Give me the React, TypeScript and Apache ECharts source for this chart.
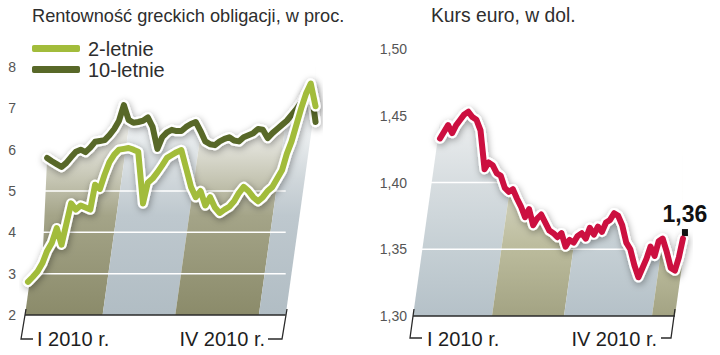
import React, { useEffect, useRef } from "react";
import * as echarts from "echarts";

// ---------- data ----------
const leftTitle = "Rentowność greckich obligacji, w proc.";
const rightTitle = "Kurs euro, w dol.";
const legendNames = ["2-letnie", "10-letnie"];
const xTickLabels = ["I 2010 r.", "IV 2010 r."];
const leftGridValues = [3, 4, 5];
const rightGridValues = [1.35, 1.4, 1.45];

const twoYearYield = [
  2.8, 2.92, 3.05, 3.25, 3.55, 3.75, 4.1, 3.7, 4.2, 4.7,
  4.55, 4.65, 4.6, 4.55, 5.15, 5.05, 5.4, 5.7, 5.88, 6.0,
  6.02, 6.04, 6.0, 5.95, 4.7, 5.2, 5.3, 5.45, 5.62, 5.8,
  5.87, 5.94, 5.99, 5.55, 5.1, 4.85, 5.0, 4.65, 4.85, 4.6,
  4.47, 4.55, 4.62, 4.75, 4.95, 5.1, 5.0, 4.85, 4.75, 4.85,
  5.0, 5.1, 5.3, 5.5, 5.9, 6.2, 6.6, 7.0, 7.35, 7.6,
  7.05,
];
const tenYearYield: (number | null)[] = [
  null, null, null, null, 5.8, 5.72, 5.65, 5.58, 5.68, 5.82,
  5.95, 6.0, 5.94, 6.05, 6.19, 6.21, 6.23, 6.35, 6.5, 6.7,
  7.08, 6.72, 6.65, 6.67, 6.7, 6.78, 6.55, 6.02, 6.3, 6.42,
  6.48, 6.45, 6.45, 6.55, 6.62, 6.67, 6.45, 6.2, 6.13, 6.11,
  6.2, 6.26, 6.3, 6.22, 6.2, 6.3, 6.35, 6.4, 6.5, 6.48,
  6.28, 6.4, 6.5, 6.6, 6.7, 6.84, 6.98, 7.15, 7.35, 7.52,
  6.67,
];
const eurUsd = [
  1.433, 1.438, 1.443, 1.437, 1.443, 1.447, 1.451, 1.453, 1.449, 1.447,
  1.439, 1.41, 1.415, 1.413, 1.407, 1.405, 1.396, 1.393, 1.395, 1.388,
  1.382, 1.374, 1.38, 1.368, 1.373, 1.376, 1.37, 1.364, 1.362, 1.359,
  1.362, 1.352, 1.357, 1.355, 1.36, 1.362, 1.358, 1.366, 1.361, 1.367,
  1.363, 1.37, 1.372, 1.377, 1.375, 1.368, 1.355, 1.35, 1.338, 1.329,
  1.336, 1.343, 1.352, 1.345, 1.356, 1.358, 1.348, 1.336, 1.334, 1.344,
  1.358,
];

// month stripes, in trading-day index units: [start, end, kind(0 olive / 1 blue)]
const leftBands = [
  [-0.62, 15.57, 0],
  [15.57, 30.73, 1],
  [30.73, 48.17, 0],
  [48.17, 53.77, 1],
];
const rightBands = [
  [-6.67, 12.84, 1],
  [12.84, 30.62, 0],
  [30.62, 52.35, 1],
  [52.35, 58.02, 0],
];
const LEFT_MIN = -0.62;
const LEFT_AXIS_END = 53.77;
const LEFT_MAX = 60.3;
const RIGHT_MIN = -6.67;
const RIGHT_AXIS_END = 58.02;
const RIGHT_MAX = 61;

// ---------- styles ----------
const SANS = "'Liberation Sans', Arial, sans-serif";
const GREEN_LIGHT = "#a2bc3b";
const GREEN_DARK = "#586828";
const RED = "#cc1040";
const SLANT = 0.14;

const leftStops = [
  [
    { offset: 0, color: "#fbfbfa" },
    { offset: 0.3, color: "#e4e4dd" },
    { offset: 0.45, color: "#c6c6b4" },
    { offset: 0.6, color: "#a4a488" },
    { offset: 1, color: "#8b8b6a" },
  ],
  [
    { offset: 0, color: "#fbfcfc" },
    { offset: 0.3, color: "#e7ebed" },
    { offset: 0.45, color: "#d0d7db" },
    { offset: 0.6, color: "#bec8ce" },
    { offset: 1, color: "#b1bdc4" },
  ],
];
const rightStops = [
  [
    { offset: 0, color: "#ffffff" },
    { offset: 0.25, color: "#eeeee8" },
    { offset: 0.5, color: "#d6d6c2" },
    { offset: 0.75, color: "#bbbb9c" },
    { offset: 1, color: "#a3a383" },
  ],
  [
    { offset: 0, color: "#ffffff" },
    { offset: 0.25, color: "#eceeef" },
    { offset: 0.5, color: "#d7dde0" },
    { offset: 0.75, color: "#c5cfd4" },
    { offset: 1, color: "#b5c1c8" },
  ],
];

function clipRight(pts: number[][], maxX: number): number[][] {
  const out: number[][] = [];
  for (let i = 0; i < pts.length; i++) {
    const a = pts[i];
    const b = pts[(i + 1) % pts.length];
    const ain = a[0] <= maxX;
    const bin = b[0] <= maxX;
    if (ain) out.push(a);
    if (ain !== bin) {
      const t = (maxX - a[0]) / (b[0] - a[0]);
      out.push([maxX, a[1] + t * (b[1] - a[1])]);
    }
  }
  return out;
}

function bandSeries(idx: number, bands: number[][], stops: any[], yMin: number, yMax: number, lastIdx: number) {
  return {
    type: "custom",
    xAxisIndex: idx,
    yAxisIndex: idx,
    z: 1,
    silent: true,
    clip: false,
    encode: { x: [0, 1], y: 2 },
    data: bands,
    renderItem: (params: any, api: any) => {
      const x0 = api.value(0);
      const x1 = api.value(1);
      const kind = api.value(2);
      const b0 = api.coord([x0, yMin]);
      const b1 = api.coord([x1, yMin]);
      const t = api.coord([x0, yMax]);
      const sh = SLANT * (b0[1] - t[1]);
      const endX = api.coord([lastIdx, yMin])[0];
      const pts = clipRight(
        [
          [b0[0], b0[1]],
          [b1[0], b1[1]],
          [b1[0] + sh, t[1]],
          [b0[0] + sh, t[1]],
        ],
        endX
      );
      return {
        type: "polygon",
        shape: { points: pts },
        style: {
          fill: { type: "linear", x: 0, y: 0, x2: 0, y2: 1, colorStops: stops[kind] },
        },
      };
    },
  };
}

function gridLineSeries(idx: number, values: number[], xStart: number, xEnd: number) {
  return {
    type: "custom",
    xAxisIndex: idx,
    yAxisIndex: idx,
    z: 2,
    silent: true,
    clip: false,
    encode: { x: 0, y: 1 },
    data: values.map((v) => [xEnd, v]),
    renderItem: (params: any, api: any) => {
      const v = api.value(1);
      const p0 = api.coord([xStart, v]);
      const p1 = api.coord([xEnd, v]);
      return {
        type: "line",
        shape: { x1: p0[0], y1: p0[1], x2: p1[0], y2: p1[1] },
        style: { stroke: "#ffffff", lineWidth: 1.5 },
      };
    },
  };
}

function baseLineSeries(idx: number, yMin: number, xStart: number, xEnd: number) {
  return {
    type: "custom",
    xAxisIndex: idx,
    yAxisIndex: idx,
    z: 9,
    silent: true,
    clip: false,
    encode: { x: 0, y: 1 },
    data: [[xEnd, yMin]],
    renderItem: (params: any, api: any) => {
      const p0 = api.coord([xStart, yMin]);
      const p1 = api.coord([xEnd, yMin]);
      return {
        type: "line",
        shape: { x1: p0[0], y1: p0[1], x2: p1[0], y2: p1[1] },
        style: { stroke: "#2a2a2a", lineWidth: 1.5 },
      };
    },
  };
}

function haloLine(idx: number, data: number[][], z: number) {
  return {
    type: "line",
    xAxisIndex: idx,
    yAxisIndex: idx,
    data,
    showSymbol: false,
    symbol: "none",
    silent: true,
    clip: false,
    z,
    lineStyle: {
      color: "#ffffff",
      width: 10.5,
      join: "round",
      cap: "round",
      shadowBlur: 7,
      shadowColor: "rgba(0,0,0,0.35)",
      shadowOffsetX: 1,
      shadowOffsetY: 2,
    },
  };
}

function colorLine(idx: number, name: string, data: number[][], color: string, z: number, extra: any = {}) {
  return {
    type: "line",
    name,
    xAxisIndex: idx,
    yAxisIndex: idx,
    data,
    showSymbol: false,
    symbol: "none",
    clip: false,
    z,
    color,
    itemStyle: { color },
    lineStyle: { color, width: 6, join: "round", cap: "round" },
    ...extra,
  };
}

function maskSeries(idx: number, data: number[][]) {
  return {
    type: "line",
    xAxisIndex: idx,
    yAxisIndex: idx,
    data,
    showSymbol: false,
    symbol: "none",
    silent: true,
    clip: false,
    z: 3,
    lineStyle: { width: 0, opacity: 0 },
    areaStyle: { color: "#ffffff", opacity: 1, origin: "end" },
  };
}

export default function App() {
  const ref = useRef<HTMLDivElement>(null);

  useEffect(() => {
    if (!ref.current) return;
    const chart = echarts.init(ref.current, undefined, { renderer: "svg" });

    const twoData = twoYearYield.map((v, i) => [i, v]);
    const tenData = tenYearYield
      .map((v, i) => [i, v])
      .filter((p) => p[1] !== null) as number[][];
    const envelope = twoYearYield.map((v, i) => {
      const t = tenYearYield[i];
      return [i, t === null ? v : Math.max(v, t)];
    });
    const eurData = eurUsd.map((v, i) => [i, v]);
    const lastL = twoYearYield.length - 1;
    const lastR = eurUsd.length - 1;
    const lastEur = eurUsd[lastR];

    const bracket = (pts: number[][]) => ({
      type: "polyline",
      silent: true,
      z: 20,
      shape: { points: pts },
      style: { stroke: "#2a2a2a", lineWidth: 1.3, fill: null },
    });
    const xLabel = (text: string, x: number, align: string) => ({
      type: "text",
      silent: true,
      z: 20,
      x,
      y: 339,
      style: {
        text,
        fill: "#1e1e1e",
        font: `20px ${SANS}`,
        align,
        verticalAlign: "middle",
      },
    });

    const yLabel = { color: "#555555", fontSize: 14, fontFamily: SANS };
    const hiddenX = {
      axisLine: { show: false },
      axisTick: { show: false },
      axisLabel: { show: false },
      splitLine: { show: false },
    };

    chart.setOption({
      animation: false,
      backgroundColor: "#ffffff",
      title: [
        {
          text: leftTitle,
          left: 32,
          top: 7,
          padding: 0,
          textStyle: { fontSize: 18.2, fontWeight: "normal", color: "#2e2e2e", fontFamily: SANS },
        },
        {
          text: rightTitle,
          left: 431,
          top: 6,
          padding: 0,
          textStyle: { fontSize: 19.3, fontWeight: "normal", color: "#2e2e2e", fontFamily: SANS },
        },
      ],
      legend: {
        data: legendNames,
        orient: "vertical",
        left: 32,
        top: 38,
        padding: 0,
        itemGap: 0,
        itemWidth: 48,
        itemHeight: 7,
        icon: "roundRect",
        selectedMode: false,
        textStyle: {
          fontSize: 20,
          lineHeight: 21,
          color: "#2e2e2e",
          fontFamily: SANS,
          padding: [0, 0, 0, 3],
        },
      },
      grid: [
        { left: 25, top: 67, width: 292, height: 248, containLabel: false, outerBoundsMode: "none" },
        { left: 413, top: 49, width: 274, height: 267, containLabel: false, outerBoundsMode: "none" },
      ],
      xAxis: [
        { type: "value", gridIndex: 0, min: LEFT_MIN, max: LEFT_MAX, ...hiddenX },
        { type: "value", gridIndex: 1, min: RIGHT_MIN, max: RIGHT_MAX, ...hiddenX },
      ],
      yAxis: [
        {
          type: "value",
          gridIndex: 0,
          min: 2,
          max: 8,
          interval: 1,
          axisLine: { show: false },
          axisTick: { show: false },
          axisLabel: { ...yLabel, margin: 9 },
          splitLine: { show: false },
        },
        {
          type: "value",
          gridIndex: 1,
          min: 1.3,
          max: 1.5,
          interval: 0.05,
          axisLine: { show: false },
          axisTick: { show: false },
          axisLabel: {
            ...yLabel,
            margin: 6,
            formatter: (v: number) => v.toFixed(2).replace(".", ","),
          },
          splitLine: { show: false },
        },
      ],
      series: [
        bandSeries(0, leftBands, leftStops, 2, 8, lastL),
        bandSeries(1, rightBands, rightStops, 1.3, 1.5, lastR),
        gridLineSeries(0, leftGridValues, LEFT_MIN + 0.4, LEFT_AXIS_END),
        gridLineSeries(1, rightGridValues, RIGHT_MIN, RIGHT_AXIS_END),
        maskSeries(0, envelope),
        maskSeries(1, eurData),
        baseLineSeries(0, 2, LEFT_MIN, LEFT_AXIS_END),
        baseLineSeries(1, 1.3, RIGHT_MIN, RIGHT_AXIS_END),
        haloLine(0, tenData, 4),
        colorLine(0, legendNames[1], tenData, GREEN_DARK, 5),
        haloLine(0, twoData, 6),
        colorLine(0, legendNames[0], twoData, GREEN_LIGHT, 7),
        haloLine(1, eurData, 4),
        colorLine(1, "EUR/USD", eurData, RED, 5, {
          markPoint: {
            silent: true,
            animation: false,
            data: [
              {
                coord: [lastR, lastEur],
                symbol: "rect",
                symbolSize: [6, 7],
                symbolOffset: [2, -6],
                itemStyle: { color: "#111111" },
                label: {
                  show: true,
                  position: "top",
                  distance: 4,
                  formatter: lastEur.toFixed(2).replace(".", ","),
                  color: "#111111",
                  fontSize: 23,
                  fontWeight: "bold",
                  fontFamily: SANS,
                },
              },
            ],
          },
        }),
      ],
      graphic: [
        bracket([[26, 309], [21, 339], [33, 339]]),
        bracket([[287, 309], [282, 339], [268, 339]]),
        bracket([[414, 309], [410, 338], [422, 338]]),
        bracket([[675, 309], [671, 338], [661, 338]]),
        xLabel(xTickLabels[0], 37, "left"),
        xLabel(xTickLabels[1], 265, "right"),
        xLabel(xTickLabels[0], 427, "left"),
        xLabel(xTickLabels[1], 657, "right"),
      ],
    });

    return () => chart.dispose();
  }, []);

  return (
    <div
      ref={ref}
      style={{ position: "absolute", left: 0, top: 0, width: 720, height: 355 }}
    />
  );
}
